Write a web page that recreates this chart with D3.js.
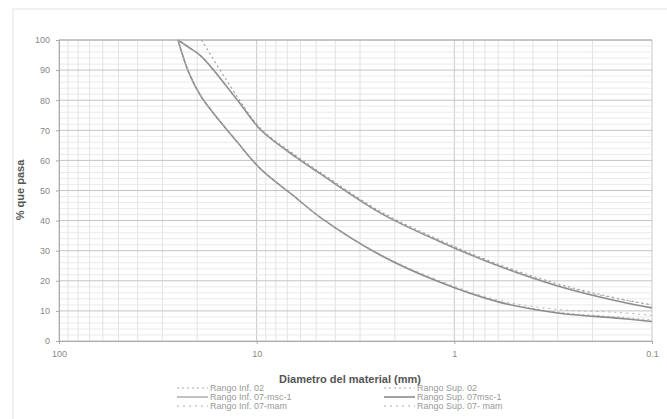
<!DOCTYPE html>
<head>
  <meta charset="utf-8" />
  <script src="https://d3js.org/d3.v7.min.js"></script>
  <style>
    body { margin: 0; background: #fff; }
    text { font-family: "Liberation Sans", Arial, sans-serif; }
  </style>
</head>
<body>
  <script>
    // tamices (mm) y % que pasa
    var tamices = [25, 22, 19, 12.5, 9.5, 6.3, 4.75, 2.36, 1.18, 0.6, 0.3, 0.15, 0.1];
    var infMsc = [100, 89, 81, 66, 57, 47.5, 41, 28.5, 19.5, 13, 9.3, 7.6, 6.5];
    var supMsc = [100, 97.5, 94.5, 80, 70, 61, 55.5, 42.5, 33, 25, 18.3, 13.3, 11];
    var tamices02 = [19, 12.5, 9.5, 6.3, 4.75, 2.36, 1.18, 0.6, 0.3, 0.15, 0.1];
    var sup02 = [100, 81, 70.5, 61.5, 56, 43, 33.5, 25.5, 19, 14.2, 12];
    var inf02 = [100, 89, 81, 66, 57, 47.5, 41, 28.5, 19.7, 13.2, 9.6, 8, 7];
    var infMam = [100, 89, 81, 66, 57, 47.5, 41, 28.8, 20, 13.6, 10.5, 9.5, 8.5];
    var supMam = [100, 97.5, 94.5, 80, 70, 61, 55.5, 42.5, 33, 25, 18.6, 14, 12];
    var yTicks = [0, 10, 20, 30, 40, 50, 60, 70, 80, 90, 100];
    var xTicks = [100, 10, 1, 0.1];
    var leyenda = ["Rango Inf. 02", "Rango Inf. 07-msc-1", "Rango Inf. 07-mam",
                   "Rango Sup. 02", "Rango Sup. 07msc-1", "Rango Sup. 07- mam"];

    var width = 667, height = 419;
    var svg = d3.select("body").append("svg")
      .attr("width", width).attr("height", height);

    // marco del area del grafico
    svg.append("rect").attr("x", 13).attr("y", 9).attr("width", 700).attr("height", 430)
      .attr("fill", "none").attr("stroke", "#e2e2e2");

    var x = d3.scaleLog().domain([100, 0.1]).range([59, 652]);
    var y = d3.scaleLinear().domain([0, 100]).range([341, 40]);

    var g = svg.append("g");

    // rejilla vertical (log)
    var minX = [];
    [10, 1, 0.1].forEach(function (dec) {
      for (var k = 2; k <= 9; k++) minX.push(dec * k);
    });
    g.selectAll(".vmin").data(minX).enter().append("line")
      .attr("x1", d => x(d)).attr("x2", d => x(d))
      .attr("y1", y(0)).attr("y2", y(100))
      .attr("stroke", "#dcdcdc").attr("stroke-width", 0.8);
    g.selectAll(".vmaj").data(xTicks).enter().append("line")
      .attr("x1", d => x(d)).attr("x2", d => x(d))
      .attr("y1", y(0)).attr("y2", y(100))
      .attr("stroke", "#c8c8c8").attr("stroke-width", 1);

    // rejilla horizontal
    var minY = d3.range(0, 101, 2).filter(d => d % 10 != 0);
    g.selectAll(".hmin").data(minY).enter().append("line")
      .attr("x1", x(100)).attr("x2", x(0.1))
      .attr("y1", d => y(d)).attr("y2", d => y(d))
      .attr("stroke", "#e4e4e4").attr("stroke-width", 0.8);
    g.selectAll(".hmaj").data(yTicks).enter().append("line")
      .attr("x1", x(100)).attr("x2", x(0.1))
      .attr("y1", d => y(d)).attr("y2", d => y(d))
      .attr("stroke", "#c4c4c4").attr("stroke-width", 1);

    // ejes
    var ejeY = svg.append("g").attr("transform", "translate(" + x(100) + ",0)")
      .call(d3.axisLeft(y).tickValues(yTicks).tickSize(3).tickPadding(6));
    var ejeX = svg.append("g").attr("transform", "translate(0," + y(0) + ")")
      .call(d3.axisBottom(x).tickValues(xTicks).tickFormat(d3.format("")).tickSize(3).tickPadding(7));
    [ejeY, ejeX].forEach(function (a) {
      a.selectAll("path, line").attr("stroke", "#aaa");
      a.selectAll("text").attr("fill", "#888").style("font-size", "9px");
    });
    svg.append("line").attr("x1", x(100)).attr("x2", x(0.1)).attr("y1", y(100)).attr("y2", y(100))
      .attr("stroke", "#aaa");

    // curvas
    var linea = d3.line().x(d => x(d[0])).y(d => y(d[1])).curve(d3.curveCatmullRom.alpha(0.5));
    var series = [
      { t: tamices, v: inf02, dash: "2,3", color: "#b4b4b4", w: 1 },
      { t: tamices, v: infMsc, dash: null, color: "#8c8c8c", w: 1.6 },
      { t: tamices, v: infMam, dash: "2,4", color: "#b4b4b4", w: 1 },
      { t: tamices02, v: sup02, dash: "2,3", color: "#999", w: 1.1 },
      { t: tamices, v: supMsc, dash: null, color: "#8c8c8c", w: 1.6 },
      { t: tamices, v: supMam, dash: "2,4", color: "#aaa", w: 1 }
    ];
    series.forEach(function (s) {
      g.append("path")
        .datum(s.t.map((t, i) => [t, s.v[i]]))
        .attr("d", linea)
        .attr("fill", "none")
        .attr("stroke", s.color)
        .attr("stroke-width", s.w)
        .attr("stroke-dasharray", s.dash);
    });

    // titulos
    svg.append("text")
      .attr("transform", "translate(24,190) rotate(-90)")
      .attr("text-anchor", "middle")
      .attr("fill", "#555").style("font-size", "11px").style("font-weight", "bold")
      .text("% que pasa");
    svg.append("text")
      .attr("x", 350).attr("y", 383)
      .attr("text-anchor", "middle")
      .attr("fill", "#555").style("font-size", "11px").style("font-weight", "bold")
      .text("Diametro del material (mm)");

    // leyenda
    var ley = svg.append("g");
    leyenda.forEach(function (nombre, i) {
      var col = Math.floor(i / 3), fila = i % 3;
      var lx = col == 0 ? 177 : 384;
      var ly = 388 + fila * 9;
      var s = series[i];
      ley.append("line").attr("x1", lx).attr("x2", lx + 31).attr("y1", ly).attr("y2", ly)
        .attr("stroke", s.dash ? "#aaa" : (col == 1 ? "#666" : "#999"))
        .attr("stroke-width", s.dash ? 1 : 1.2)
        .attr("stroke-dasharray", s.dash);
      ley.append("text").attr("x", lx + 33).attr("y", ly + 3)
        .attr("fill", "#999").style("font-size", "9px")
        .text(nombre);
    });
  </script>
</body>
